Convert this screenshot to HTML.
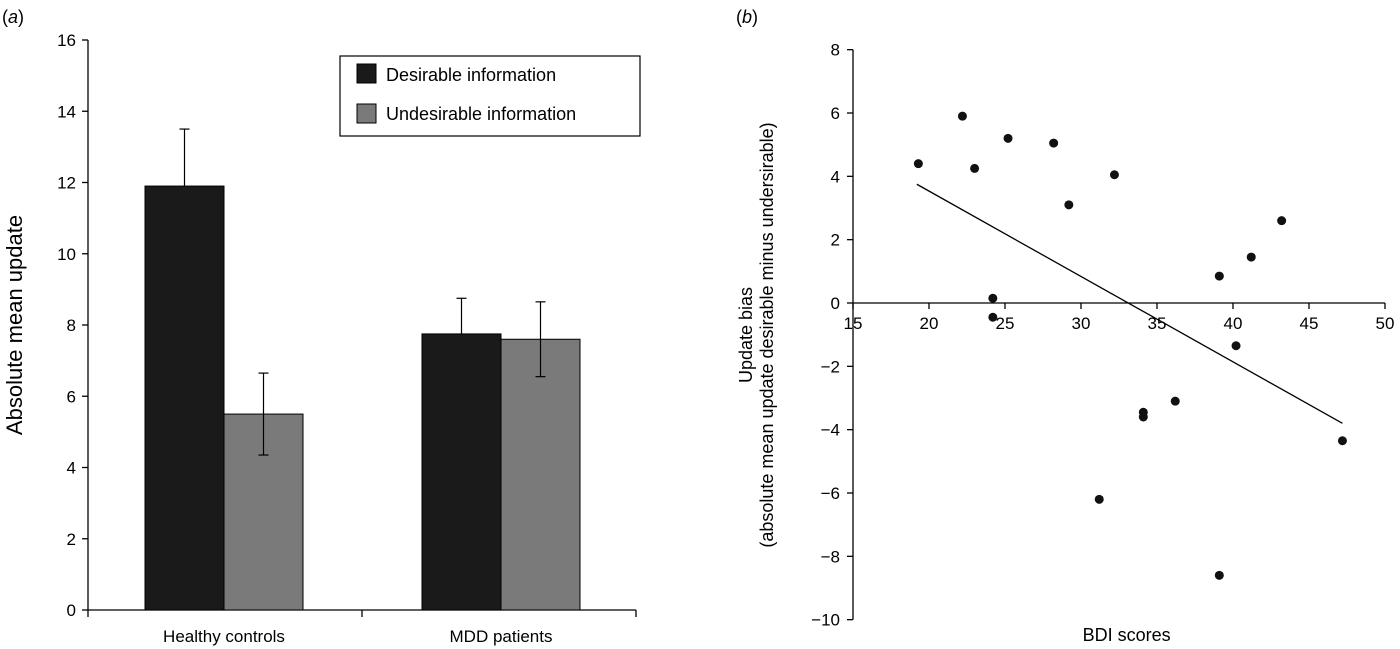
<!DOCTYPE html>
<html><head><meta charset="utf-8"><style>
html,body{margin:0;padding:0;background:#fff;}
svg{display:block;font-family:"Liberation Sans",Arial,sans-serif;}
</style></head><body>
<svg id="c" width="1400" height="649" viewBox="0 0 1400 649"></svg>
<script>
// Panel a data
const groups=["Healthy controls","MDD patients"];
const desirable=[11.9,7.75];
const undesirable=[5.5,7.6];
const desErr=[1.6,1.0];
const undErr=[1.15,1.05];
const yTicksA=[0,2,4,6,8,10,12,14,16];
// Panel b data
const bdi=[19.3,22.2,23.0,24.2,24.2,25.2,28.2,29.2,32.2,31.2,34.1,34.1,36.2,39.1,39.1,40.2,41.2,43.2,47.2];
const bias=[4.4,5.9,4.25,0.15,-0.45,5.2,5.05,3.1,4.05,-6.2,-3.45,-3.6,-3.1,0.85,-8.6,-1.35,1.45,2.6,-4.35];
const fitX=[19.2,47.2];
const fitY=[3.75,-3.8];
const xTicksB=[15,20,25,30,35,40,45,50];
const yTicksB=[8,6,4,2,0,-2,-4,-6,-8,-10];

const NS="http://www.w3.org/2000/svg";
const svg=document.getElementById('c');
function el(t,a,txt){const e=document.createElementNS(NS,t);for(const k in a)e.setAttribute(k,a[k]);if(txt!=null)e.textContent=txt;svg.appendChild(e);return e;}

const yA=v=>610-v*(570/16);
const ax0=88;
let e;
e=el('text',{x:2,y:23,'font-size':18},'');e.innerHTML='(<tspan font-style="italic">a</tspan>)';


e=el('line',{x1:ax0,y1:yA(16),x2:ax0,y2:610,stroke:'#000','stroke-width':1.3});


e=el('line',{x1:ax0,y1:610,x2:636,y2:610,stroke:'#000','stroke-width':1.3});


yTicksA.forEach(v=>{
  el('line',{x1:ax0-6,y1:yA(v),x2:ax0,y2:yA(v),stroke:'#000','stroke-width':1.3});
  e=el('text',{x:ax0-12,y:yA(v)+6,'font-size':17,'text-anchor':'end'},v);
  
  
});
[88,362,636].forEach(x=>el('line',{x1:x,y1:610,x2:x,y2:617,stroke:'#000','stroke-width':1.3}));
e=el('text',{x:0,y:0,'font-size':22,'text-anchor':'middle',transform:'translate(22,325) rotate(-90)'},'Absolute mean update');


const centers=[224,501];const bw=79;
groups.forEach((g,i)=>{
  const c=centers[i];
  e=el('rect',{x:c-bw,y:yA(desirable[i]),width:bw,height:610-yA(desirable[i]),fill:'#1a1a1a',stroke:'#000'});
  
  
  e=el('rect',{x:c,y:yA(undesirable[i]),width:bw,height:610-yA(undesirable[i]),fill:'#7a7a7a',stroke:'#000'});
  
  
  [[c-bw/2,desirable[i],desErr[i],false],[c+bw/2,undesirable[i],undErr[i],true]].forEach(([x,v,er,both])=>{
    const lo=both?v-er:v;
    el('line',{x1:x,y1:yA(v+er),x2:x,y2:yA(lo),stroke:'#000','stroke-width':1.2});
    el('line',{x1:x-5,y1:yA(v+er),x2:x+5,y2:yA(v+er),stroke:'#000','stroke-width':1.2});
    if(both)el('line',{x1:x-5,y1:yA(lo),x2:x+5,y2:yA(lo),stroke:'#000','stroke-width':1.2});
  });
  e=el('text',{x:c,y:642,'font-size':17,'text-anchor':'middle'},g);
  
  
});
e=el('rect',{x:340,y:56,width:300,height:80,fill:'#fff',stroke:'#000','stroke-width':1.2});


el('rect',{x:357,y:64,width:19,height:19,fill:'#1a1a1a',stroke:'#000'});
e=el('text',{x:386,y:81,'font-size':18},'Desirable information');


el('rect',{x:357,y:104,width:19,height:19,fill:'#7a7a7a',stroke:'#000'});
e=el('text',{x:386,y:120,'font-size':18},'Undesirable information');



const xB=v=>853+(v-15)*(532/35);
const yB=v=>303-v*(570/18);
e=el('text',{x:736,y:23,'font-size':18},'');e.innerHTML='(<tspan font-style="italic">b</tspan>)';


e=el('line',{x1:853,y1:yB(8),x2:853,y2:yB(-10),stroke:'#000','stroke-width':1.3});


e=el('line',{x1:853,y1:yB(0),x2:xB(50),y2:yB(0),stroke:'#000','stroke-width':1.3});


yTicksB.forEach(v=>{
  el('line',{x1:847,y1:yB(v),x2:853,y2:yB(v),stroke:'#000','stroke-width':1.3});
  e=el('text',{x:840,y:yB(v)+6,'font-size':17,'text-anchor':'end'},v<0?'\u2212'+(-v):v);
  
  
});
xTicksB.forEach(v=>{
  el('line',{x1:xB(v),y1:yB(0),x2:xB(v),y2:yB(0)+6,stroke:'#000','stroke-width':1.3});
  e=el('text',{x:xB(v),y:yB(0)+26,'font-size':17,'text-anchor':'middle'},v);
  
  
});
e=el('text',{x:0,y:0,'font-size':18,'text-anchor':'middle',transform:'translate(752,335) rotate(-90)'},'Update bias');


e=el('text',{x:0,y:0,'font-size':18,'text-anchor':'middle',transform:'translate(773,335) rotate(-90)'},'(absolute mean update desirable minus undersirable)');


e=el('text',{x:xB(33),y:641,'font-size':18,'text-anchor':'middle'},'BDI scores');


e=el('line',{x1:xB(fitX[0]),y1:yB(fitY[0]),x2:xB(fitX[1]),y2:yB(fitY[1]),stroke:'#000','stroke-width':1.3});


bdi.forEach((x,i)=>{
  e=el('circle',{cx:xB(x),cy:yB(bias[i]),r:4.5,fill:'#111'});
  
  
});
</script>
</body></html>
